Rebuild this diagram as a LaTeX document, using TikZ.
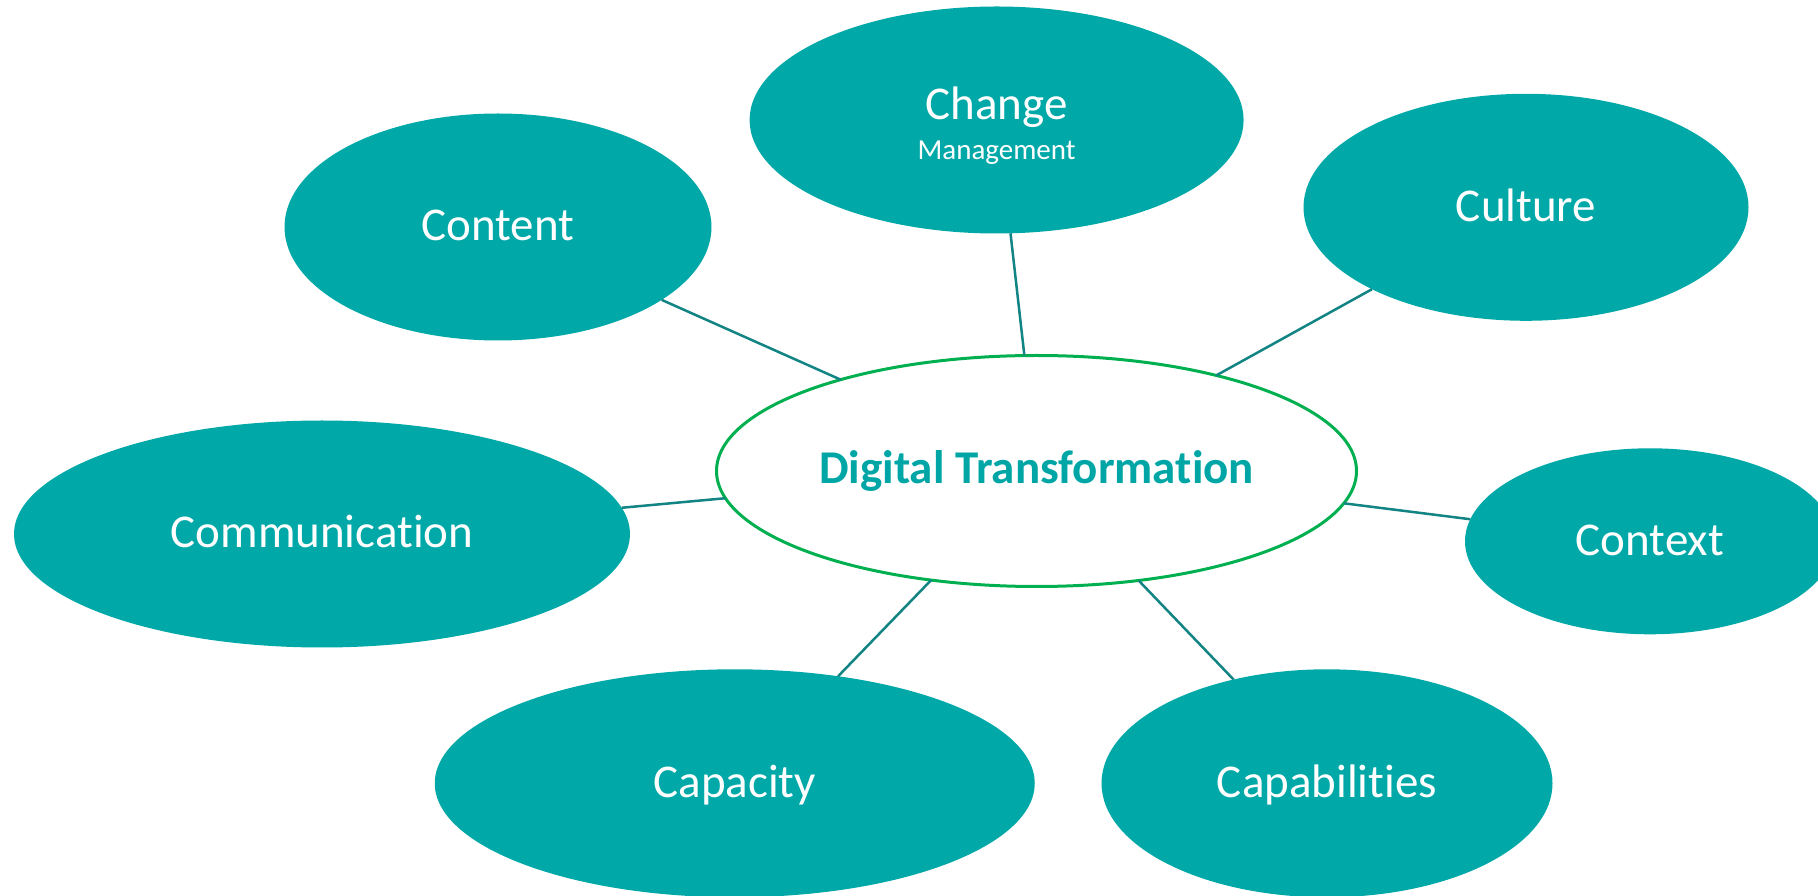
\documentclass[tikz,border=0pt]{standalone}
\usepackage{fontspec}
\setmainfont{Carlito}[Ligatures={NoCommon,NoDiscretionary,NoContextual}]
\usetikzlibrary{shapes.geometric}
\definecolor{tealfill}{RGB}{0,168,168}
\definecolor{linkcol}{RGB}{18,132,132}
\definecolor{dtgreen}{RGB}{0,176,80}
\definecolor{dttext}{RGB}{0,166,166}
\begin{document}
\begin{tikzpicture}[x=1pt,y=1pt,
  bubble/.style={ellipse, fill=tealfill, inner sep=0pt, outer sep=0pt,
    text=white, font=\fontsize{47}{56}\selectfont, text height=28pt, text depth=0pt},
  hub/.style={ellipse, draw=dtgreen, line width=3pt, fill=white, inner sep=0pt,
    outer sep=0pt, text=dttext, font=\bfseries\fontsize{47}{56}\selectfont,
    text height=25pt, text depth=0pt},
  bubtxt/.style={inner sep=0pt, text=white, anchor=base},
  link/.style={draw=linkcol, line width=2.5pt}
]
\useasboundingbox (0,0) rectangle (1818,895);
\clip (0,0) rectangle (1818,895);
\fill[white] (0,0) rectangle (1818,895);

\node[hub, minimum width=640pt, minimum height=231pt] (dt) at (1036.5,424) {Digital Transformation};

\node[bubble, minimum width=427pt, minimum height=227pt] (content) at (498,668) {Content};
\node[bubble, minimum width=494pt, minimum height=227pt] (change) at (996.6,775) {};
\node[bubtxt, font=\fontsize{47}{56}\selectfont] (changet) at ([yshift=0.7pt]change.center) {Change};
\node[bubtxt, font=\fontsize{29}{35}\selectfont] (mgmt) at ([yshift=-40pt]change.center) {Management};
\node[bubble, minimum width=445pt, minimum height=227pt] (culture) at (1526,687.7) {Culture};
\node[bubble, minimum width=616pt, minimum height=227pt] (comm) at (322,361) {Communication};
\node[bubble, minimum width=370pt, minimum height=186pt] (context) at (1650,353.7) {Context};
\node[bubble, minimum width=600pt, minimum height=228pt] (capacity) at (734.75,111.7) {Capacity};
\node[bubble, minimum width=451pt, minimum height=228pt] (capab) at (1327,111.7) {Capabilities};

\draw[link] (content.-24) -- (dt.155.7);
\draw[link] (change.-83.4) -- (dt.96.9);
\draw[link] (culture.208.5) -- (dt.28.4);
\draw[link] (comm.5.1) -- (dt.185.1);
\draw[link] (dt.-6.5) -- (context.173.4);
\draw[link] (capacity.46) -- (dt.-134.4);
\draw[link] (dt.-47.4) -- (capab.132.6);
\end{tikzpicture}
\end{document}
